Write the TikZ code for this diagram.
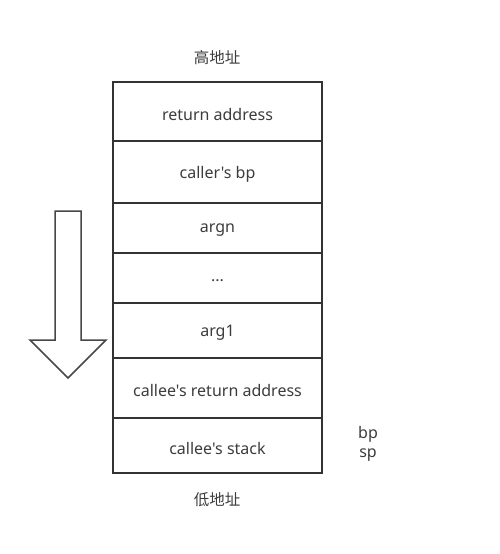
\documentclass[tikz,border=0pt]{standalone}
\usepackage{fontspec}
\setmainfont{Noto Sans}[Ligatures=TeXOff]
\newfontfamily\cjk{Noto Sans CJK SC}
\usetikzlibrary{positioning}
\definecolor{linec}{HTML}{333333}
\definecolor{textc}{HTML}{3C3C3C}
\newcommand\lowtxt[1]{\raisebox{-2.5pt}[\height][\depth]{#1}}
\begin{document}
\begin{tikzpicture}[x=1pt,y=-1pt,
  cell/.style={draw=linec,line width=2pt,minimum width=209pt,inner sep=0pt,
    text=textc,font=\fontsize{16}{19}\selectfont,anchor=north west},
  lbl/.style={text=textc,font=\fontsize{16}{19}\selectfont,inner sep=0pt,align=center},
  bigarrow/.style={draw=linec!90,line width=1.5pt,fill=white}]
\useasboundingbox (0,0) rectangle (499,554);
\node[cell,minimum height=59pt] (c1) at (112,81) {\lowtxt{return address}};
\node[cell,minimum height=62pt] (c2) at (112,140) {\lowtxt{caller's bp}};
\node[cell,minimum height=50pt] (c3) at (112,202) {\lowtxt{argn}};
\node[cell,minimum height=50pt] (c4) at (112,252) {\lowtxt{...}};
\node[cell,minimum height=55pt] (c5) at (112,302) {\lowtxt{arg1}};
\node[cell,minimum height=60pt] (c6) at (112,357) {\lowtxt{callee's return address}};
\node[cell,minimum height=55pt] (c7) at (112,417) {\lowtxt{callee's stack}};
\node[lbl,font=\cjk\fontsize{15.5}{17}\selectfont] (hi) at (217,58) {高地址};
\node[lbl,font=\cjk\fontsize{15.5}{17}\selectfont] (lo) at (217,500) {低地址};
\node[lbl,font=\fontsize{16}{19}\selectfont] (bpsp) at (368,444) {bp\\sp};
\draw[bigarrow] (55,211) -- (81,211) -- (81,340) -- (106,340) -- (68,378) -- (30,340) -- (55,340) -- cycle;
\end{tikzpicture}
\end{document}
